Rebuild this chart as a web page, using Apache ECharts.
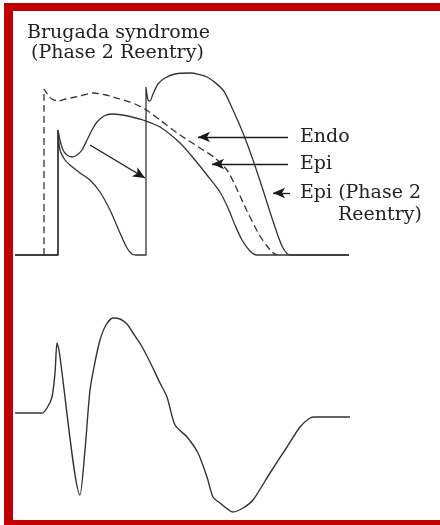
<!DOCTYPE html>
<html>
<head>
<meta charset="utf-8">
<script src="https://cdn.jsdelivr.net/npm/echarts@6/dist/echarts.min.js"></script>
<style>
html,body{margin:0;padding:0;background:#fff;}
#main{width:440px;height:525px;}
</style>
</head>
<body>
<div id="main"></div>
<script>
// Upper panel: action potentials (time units, amplitude units above resting baseline)
const endoAP = [[29,0],[29,166],[33,160],[37,156],[43,154],[51,156],[65,159],[78,162],[91,160],[105,156],[120,151],[130,146],[145,135],[165,120],[185,107],[200,97],[212,85],[220,70],[226,57],[232,44],[238,32],[245,19],[252,9],[257,3],[262,0]];
const epiAP = [[0,0],[43,0],[43,125],[45,115],[48,105],[52,100],[57,98],[62,100],[67,105],[72,115],[77,125],[82,133],[89,139],[97,141],[107,140],[117,138],[128,135],[145,128],[165,112],[180,95],[192,80],[205,63],[213,47],[220,30],[227,15],[235,4],[242,0],[334,0]];
const epiP2AP = [[0,0],[43,0],[43,125],[45,105],[50,95],[55,90],[65,82],[75,75],[85,63],[95,45],[105,22],[112,7],[117,1],[121,0],[131,0],[131,168],[133,155],[135,154],[138,161],[143,171],[150,177],[160,181],[175,182],[192,178],[208,165],[218,145],[228,122],[238,95],[248,65],[255,43],[262,22],[268,7],[275,0],[334,0]];
// Lower panel: ECG
const ecg = [[0,0],[27,0],[32,5],[37,16],[40,40],[42,70],[44,63],[65,-82],[70,-37],[75,23],[80,51],[85,73],[91,88],[98,95],[105,94],[112,89],[118,80],[126,68],[135,51],[145,30],[152,16],[160,-12],[172,-24],[183,-40],[192,-64],[198,-84],[205,-90],[218,-99],[228,-95],[238,-87],[255,-60],[272,-34],[285,-14],[295,-5],[300,-4],[335,-4]];
// Annotation arrows [from, to]
const arrows = [
  [[75,110],[130,77]],
  [[273,118],[183,118]],
  [[273,91],[197,91]],
  [[275,62],[258,62]]
];
const titleLines = ['Brugada syndrome', '(Phase 2 Reentry)'];
const labels = ['Endo', 'Epi', 'Epi (Phase 2', 'Reentry)'];

const chart = echarts.init(document.getElementById('main'), null, {renderer:'canvas'});
const lineCol = '#333';
const textCol = '#222';
const font = '"DejaVu Serif", "Liberation Serif", serif';
const red = '#c00000';

function txt(s, x, yc, size){
  return {type:'text', x:x, y:yc, style:{text:s, fill:textCol, font: size+'px '+font, textVerticalAlign:'middle', verticalAlign:'middle'}};
}
const sm = {smooth:0.25};

chart.setOption({
  animation:false,
  backgroundColor:'#fff',
  grid:[
    {left:15, top:55, width:335, height:205},
    {left:15, top:300, width:335, height:220}
  ],
  xAxis:[
    {type:'value', gridIndex:0, min:0, max:335, show:false},
    {type:'value', gridIndex:1, min:0, max:335, show:false}
  ],
  yAxis:[
    {type:'value', gridIndex:0, min:-5, max:200, show:false},
    {type:'value', gridIndex:1, min:-107, max:113, show:false}
  ],
  series:[
    Object.assign({type:'line', xAxisIndex:0, yAxisIndex:0, data:epiAP, symbol:'none', lineStyle:{color:lineCol, width:1.3}, z:3,
     markLine:{silent:true, symbol:['none','arrow'], symbolSize:[8,12], label:{show:false},
       lineStyle:{color:'#1a1a1a', width:1.3, type:'solid'},
       data: arrows.map(a => [{coord:a[0]},{coord:a[1]}])}}, sm),
    Object.assign({type:'line', xAxisIndex:0, yAxisIndex:0, data:epiP2AP, symbol:'none', lineStyle:{color:lineCol, width:1.3}, z:3}, sm),
    Object.assign({type:'line', xAxisIndex:0, yAxisIndex:0, data:endoAP, symbol:'none', lineStyle:{color:lineCol, width:1.3, type:[7,4]}, z:2}, sm),
    Object.assign({type:'line', xAxisIndex:1, yAxisIndex:1, data:ecg, symbol:'none', lineStyle:{color:lineCol, width:1.4}, z:3}, sm)
  ],
  graphic:[
    {type:'rect', shape:{x:4, y:3, width:9, height:522}, style:{fill:red}},
    {type:'rect', shape:{x:4, y:3, width:436, height:8}, style:{fill:red}},
    {type:'rect', shape:{x:4, y:520, width:436, height:5}, style:{fill:red}},
    txt(titleLines[0], 27, 33, 19),
    txt(titleLines[1], 31, 53, 19),
    txt(labels[0], 300, 137, 19),
    txt(labels[1], 300, 164, 19),
    txt(labels[2], 300, 193, 19),
    txt(labels[3], 338, 215, 19)
  ]
});
</script>
</body>
</html>
